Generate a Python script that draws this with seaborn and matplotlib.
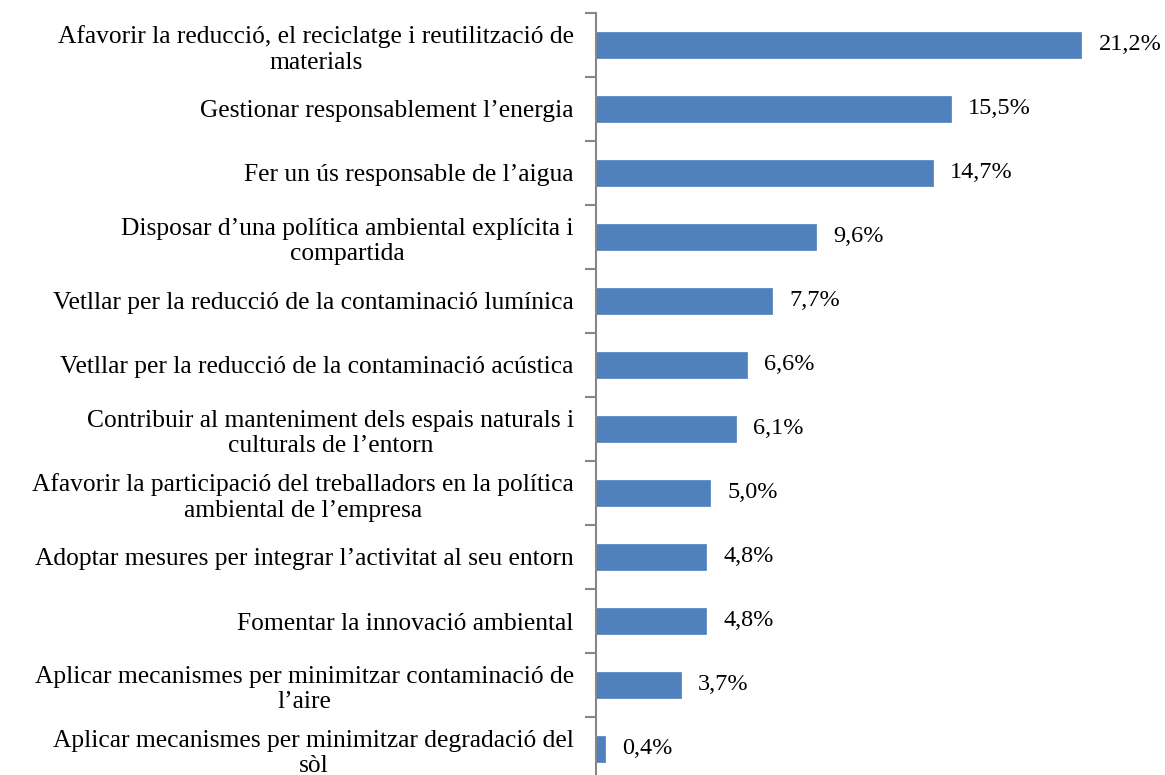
import matplotlib
matplotlib.use("Agg")
import matplotlib.pyplot as plt
import seaborn as sns
import pandas as pd
import numpy as np

# Categories and shares (%)
categories = [
    "Afavorir la reducció, el reciclatge i reutilització de\nmaterials",
    "Gestionar responsablement l’energia",
    "Fer un ús responsable de l’aigua",
    "Disposar d’una política ambiental explícita i\ncompartida",
    "Vetllar per la reducció de la contaminació lumínica",
    "Vetllar per la reducció de la contaminació acústica",
    "Contribuir al manteniment dels espais naturals i\nculturals de l’entorn",
    "Afavorir la participació del treballadors en la política\nambiental de l’empresa",
    "Adoptar mesures per integrar l’activitat al seu entorn",
    "Fomentar la innovació ambiental",
    "Aplicar mecanismes per minimitzar contaminació de\nl’aire",
    "Aplicar mecanismes per minimitzar degradació del\nsòl",
]
values = [21.2, 15.5, 14.7, 9.6, 7.7, 6.6, 6.1, 5.0, 4.8, 4.8, 3.7, 0.4]

df = pd.DataFrame({"cat": categories, "val": values})

sns.set_style("white")
plt.rcParams["font.family"] = ["Liberation Serif", "DejaVu Serif"]

fig = plt.figure(figsize=(11.65, 7.75), dpi=100)
ax = fig.add_axes([596 / 1165, -6 / 775, (1165 - 596) / 1165, 768 / 775])

sns.barplot(data=df, x="val", y="cat", color="#4F81BD", saturation=1,
            width=0.4, ax=ax, edgecolor="#4F81BD", linewidth=0.5)

ax.set_xlim(0, 24.85)
ax.set_ylim(len(categories) - 0.5, -0.5)
ax.set_xlabel("")
ax.set_ylabel("")
ax.set_xticks([])

for s in ["top", "right", "bottom"]:
    ax.spines[s].set_visible(False)
ax.spines["left"].set_color("#868686")
ax.spines["left"].set_linewidth(1.5)

ax.set_yticks(np.arange(len(categories)) - 0.5, minor=True)
ax.tick_params(axis="y", which="minor", left=True, length=8, width=1.5,
               color="#868686", direction="out")
ax.tick_params(axis="y", which="major", left=False, length=0, pad=16,
               labelsize=18.4, labelcolor="black")
for lbl in ax.get_yticklabels():
    lbl.set_multialignment("center")
    lbl.set_linespacing(1.22)

for i, v in enumerate(values):
    ax.text(v + 0.75, i, f"{v:.1f}%".replace(".", ","), va="center", ha="left",
            fontsize=17.5, color="black")

fig.savefig("out.png", dpi=100)
